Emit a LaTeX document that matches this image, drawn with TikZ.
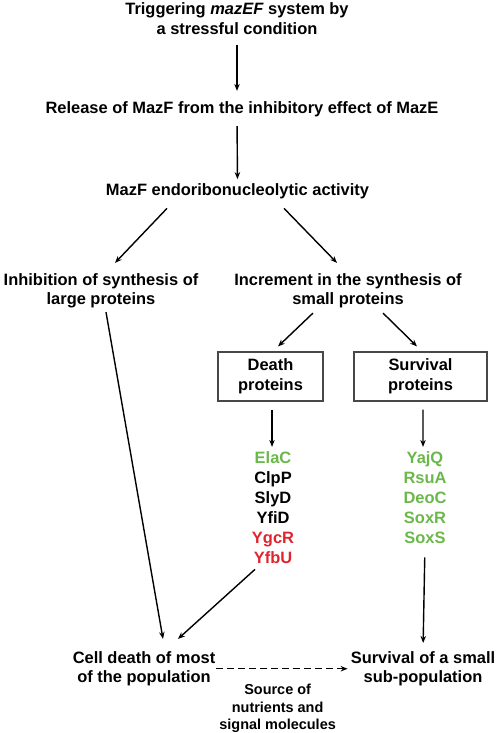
\documentclass[tikz,border=0pt]{standalone}
\usepackage[rgb]{xcolor}
\usepackage{fontspec}
\setmainfont{Liberation Sans}
\usetikzlibrary{positioning,arrows.meta}

\definecolor{protgreen}{RGB}{106,184,74}
\definecolor{protred}{RGB}{224,36,46}
\definecolor{boxgray}{RGB}{72,72,72}

\begin{document}
\begin{tikzpicture}[x=1bp, y=-1bp,
  txt/.style={align=center, inner sep=0pt, font=\fontsize{16.5}{20}\selectfont\bfseries},
  protbox/.style={draw=boxgray, line width=1.1bp, minimum height=49bp, inner sep=0pt,
    align=center, font=\fontsize{16.5}{20}\selectfont\bfseries},
  prot/.style={anchor=base, inner sep=0pt, font=\fontsize{16.5}{20}\selectfont\bfseries},
  arr/.style={-{Stealth[length=7bp,width=5.5bp]}, line width=1.4bp, black}]

\useasboundingbox (0,0) rectangle (498,733);

% the cascade from the top
\path
(237,18.5) node[txt](trig) {Triggering \textit{mazEF} system by\\a stressful condition}
(242,109.75) node[txt](release) {Release of MazF from the inhibitory effect of MazE}
(237.5,191) node[txt](activity) {MazF endoribonucleolytic activity}
(101,290.75) node[txt](inhib) {Inhibition of synthesis of\\large proteins}
(348,290.75) node[txt](incr) {Increment in the synthesis of\\small proteins};

\draw[arr, shorten <=10bp, shorten >=11bp] (trig.south) -- (trig.south |- release.north);
\draw[arr, shorten <=8.5bp, shorten >=4bp] ([xshift=-5bp]release.south) -- (activity.north);
\draw[arr] ([xshift=-70.5bp, yshift=-9.5bp]activity.south) -- ([xshift=14bp, yshift=10bp]inhib.north);
\draw[arr] ([xshift=46.5bp, yshift=-9.5bp]activity.south) -- ([xshift=-11bp, yshift=10bp]incr.north);

%% the two boxes
\path
(270.5,376.5) node[protbox, minimum width=105bp](deathbox) {Death\\proteins}
(420.5,376.5) node[protbox, minimum width=133bp](survbox) {Survival\\proteins};

\draw[arr] ([xshift=-35bp, yshift=-4.5bp]incr.south) -- ([xshift=7.5bp, yshift=5bp]deathbox.north);
\draw[arr] ([xshift=35bp, yshift=-4.5bp]incr.south) -- ([xshift=-3.5bp, yshift=5bp]survbox.north);

%% protein lists
\foreach \name/\col [count=\i] in {ElaC/protgreen, ClpP/black, SlyD/black, YfiD/black, YgcR/protred, YfbU/protred}
  \node[prot, text=\col] (d\i) at (273, 443+20*\i) {\name};
\foreach \name [count=\i] in {YajQ, RsuA, DeoC, SoxR, SoxS}
  \node[prot, text=protgreen] (s\i) at (425, 443+20*\i) {\name};

\draw[arr, shorten <=8bp, shorten >=4bp] ([xshift=1.5bp]deathbox.south) -- ([xshift=-1bp]d1.north);
\draw[arr, shorten <=8bp, shorten >=4bp] ([xshift=2.5bp]survbox.south) -- ([xshift=-2bp]s1.north);

%% the outcome
\path
(144,668.75) node[txt](celld) {Cell death of most\\of the population}
(423,668.75) node[txt](survsmall) {Survival of a small\\sub-population};

\draw[arr] ([xshift=5bp, yshift=-3.5bp]inhib.south) -- ([xshift=19bp, yshift=12bp]celld.north);
\draw[arr] ([xshift=-18bp, yshift=-6bp]d6.south) -- ([xshift=34bp, yshift=12bp]celld.north);
\draw[arr, shorten <=14bp, shorten >=8bp] (s5.south) -- ([xshift=-2bp]s5.south |- survsmall.north);

\draw[arr, dash pattern=on 6.5bp off 4.5bp, shorten <=1bp, shorten >=3bp] (celld.east) -- (survsmall.west)
  node[pos=0.46, below=15bp, inner sep=0pt, align=center,
       font=\fontsize{14.5}{17.5}\selectfont\bfseries](source) {Source of\\nutrients and\\signal molecules};

\end{tikzpicture}
\end{document}
